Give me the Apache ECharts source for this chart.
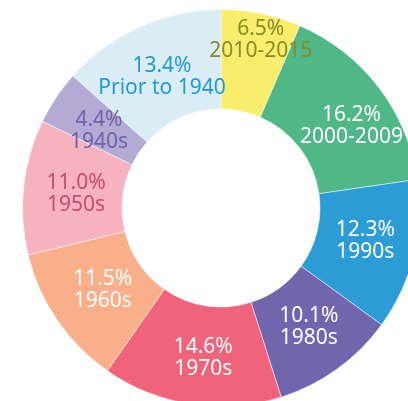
<!DOCTYPE html>
<html><head><meta charset="utf-8">
<script src="https://cdn.jsdelivr.net/npm/echarts@6/dist/echarts.min.js"></script>
<style>html,body{margin:0;padding:0;background:#fff}#c{width:408px;height:401px}</style>
</head><body><div id="c"></div>
<script>
const categories = ['2010-2015','2000-2009','1990s','1980s','1970s','1960s','1950s','1940s','Prior to 1940'];
const values = [6.5, 16.2, 12.3, 10.1, 14.6, 11.5, 11.0, 4.4, 13.4];
const colors = ['#f8ee6c','#50b887','#2c9cd6','#7166ad','#f0637b','#f9b08a','#f6b2be','#b3abd4','#daedf4'];
const labelColors = ['#8a8a2a','#ffffff','#ffffff','#ffffff','#ffffff','#ffffff','#c44f66','#6f62ab','#1f9ad8'];
const labelShift = [[9,-19],[10,10],[-3,-3],[-1,-4],[5,0],[7,-4],[6,2],[4,8],[3,8]];

const chart = echarts.init(document.getElementById('c'));
chart.setOption({
  animation: false,
  series: [{
    type: 'pie',
    center: [221, 208],
    radius: [99, 198.5],
    startAngle: 90,
    clockwise: true,
    avoidLabelOverlap: false,
    itemStyle: { borderColor: '#ffffff', borderWidth: 0.5 },
    label: {
      show: true,
      position: 'inside',
      fontFamily: 'Noto Sans',
      fontSize: 21,
      lineHeight: 22,
      formatter: p => p.value.toFixed(1) + '%\n' + p.name
    },
    labelLine: { show: false },
    labelLayout: function (params) {
      const s = labelShift[params.dataIndex] || [0, 0];
      return { hideOverlap: false, moveOverlap: null, dx: s[0], dy: s[1] };
    },
    data: categories.map((c, i) => ({
      name: c, value: values[i],
      itemStyle: { color: colors[i] },
      label: { color: labelColors[i] }
    }))
  }]
});
</script></body></html>
